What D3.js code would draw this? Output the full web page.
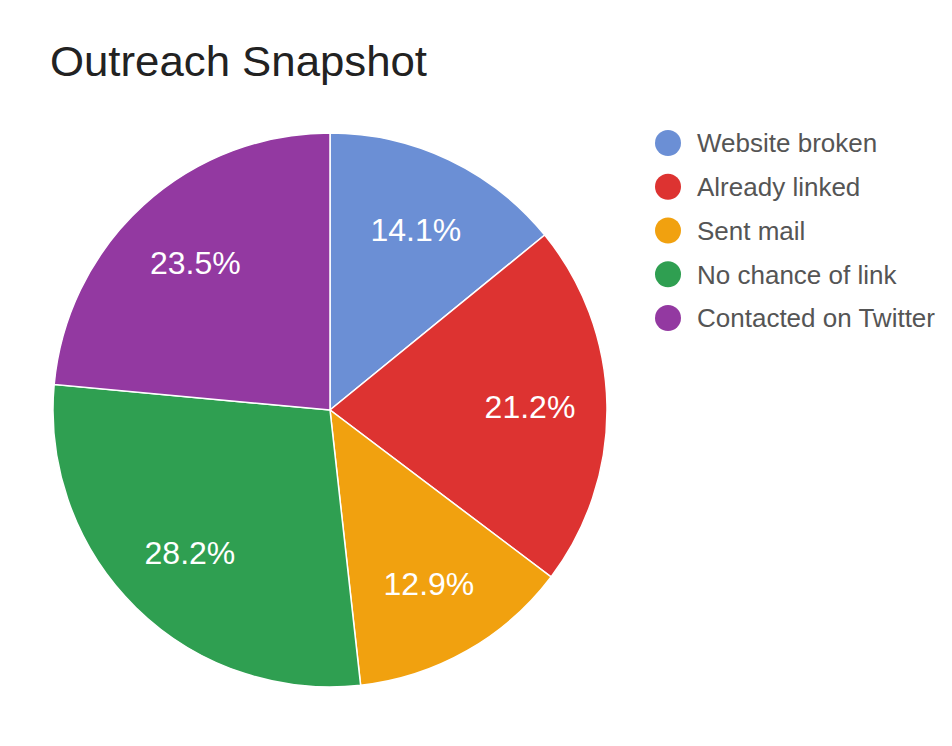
<!DOCTYPE html>
<html>
<head>
<meta charset="utf-8">
<script src="https://cdn.jsdelivr.net/npm/d3@7"></script>
<style>
  html, body { margin: 0; padding: 0; background: #fff; }
  svg { display: block; }
  svg text { font-family: "Liberation Sans", Arial, Helvetica, sans-serif; }
</style>
</head>
<body>
<svg id="chart" width="952" height="746"></svg>
<script>
const categories = ["Website broken", "Already linked", "Sent mail", "No chance of link", "Contacted on Twitter"];
const counts = [12, 18, 11, 24, 20];
const colors = ["#6b8fd5", "#dd3331", "#f1a10f", "#2f9f51", "#9339a1"];
const title = "Outreach Snapshot";

const svg = d3.select("#chart");

svg.append("text")
  .attr("x", 50).attr("y", 76)
  .style("font-size", "43px")
  .attr("textLength", 377)
  .attr("lengthAdjust", "spacingAndGlyphs")
  .attr("fill", "#222")
  .text(title);

const cx = 330, cy = 410, R = 277, labelR = 200;
const total = d3.sum(counts);
const pie = d3.pie().sort(null).value(d => d);
const arcs = pie(counts);
const arc = d3.arc().innerRadius(0).outerRadius(R);
const labelArc = d3.arc().innerRadius(labelR).outerRadius(labelR);
const color = d3.scaleOrdinal().domain(d3.range(categories.length)).range(colors);

const g = svg.append("g").attr("transform", `translate(${cx},${cy})`);
g.selectAll("path").data(arcs).join("path")
  .attr("d", arc)
  .attr("fill", (d, i) => color(i))
  .attr("stroke", "#fff")
  .attr("stroke-width", 1.5);

g.selectAll("text").data(arcs).join("text")
  .attr("transform", d => `translate(${labelArc.centroid(d)})`)
  .attr("text-anchor", "middle")
  .attr("dy", "0.36em")
  .style("font-size", "32px")
  .attr("fill", "#fff")
  .text(d => (d.value / total * 100).toFixed(1) + "%");

const legendY = d3.scalePoint().domain(categories).range([143, 318]);
const lg = svg.append("g");
const items = lg.selectAll("g").data(categories).join("g")
  .attr("transform", d => `translate(668,${legendY(d)})`);
items.append("circle").attr("r", 13).attr("fill", (d, i) => color(i));
items.append("text")
  .attr("x", 29).attr("dy", "0.36em")
  .style("font-size", "26px")
  .attr("fill", "#555")
  .text(d => d);
</script>
</body>
</html>
